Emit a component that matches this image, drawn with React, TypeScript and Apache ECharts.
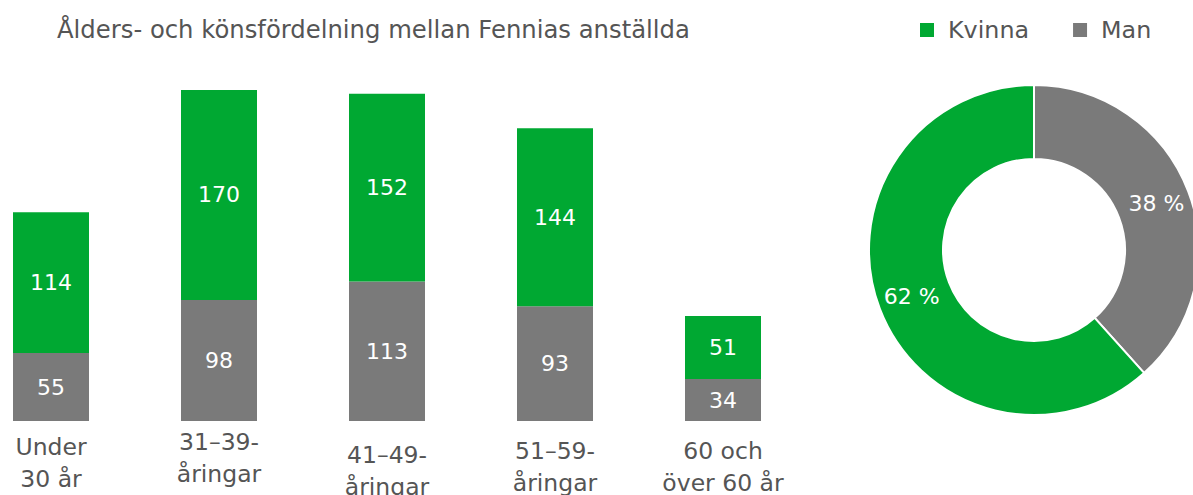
import React, { useEffect, useRef } from "react";
import * as echarts from "echarts";

const categories = ["Under\n30 år", "31–39-\nåringar", "41–49-\nåringar", "51–59-\nåringar", "60 och\növer 60 år"];
const labelOffsets = [5, 0, 13, 9, 9];
const manValues = [55, 98, 113, 93, 34];
const womenValues = [114, 170, 152, 144, 51];
const seriesNames = ["Kvinna", "Man"];
const titleText = "Ålders- och könsfördelning mellan Fennias anställda";

const GREEN = "#00a832";
const GRAY = "#7a7a7a";
const TEXT = "#555555";
const FONT = "DejaVu Sans";

export default function App() {
  const ref = useRef<HTMLDivElement>(null);
  useEffect(() => {
    if (!ref.current) return;
    const chart = echarts.init(ref.current, undefined, { renderer: "svg" });
    const sum = (a: number[]) => a.reduce((s, v) => s + v, 0);
    const totalWomen = sum(womenValues);
    const totalMen = sum(manValues);
    chart.setOption({
      animation: false,
      textStyle: { fontFamily: FONT },
      title: {
        text: titleText,
        left: 52,
        top: 12,
        textStyle: { fontFamily: FONT, fontSize: 24.3, fontWeight: "normal", color: TEXT },
      },
      legend: {
        data: seriesNames,
        left: 915,
        top: 13,
        icon: "rect",
        itemWidth: 14,
        itemHeight: 14,
        itemGap: 44,
        textStyle: { fontFamily: FONT, fontSize: 23.8, color: TEXT, padding: [0, 0, 0, 9] },
      },
      grid: { left: -33, width: 840, top: 50.5, bottom: 74, containLabel: false, outerBoundsMode: "none" },
      xAxis: {
        type: "category",
        data: categories.map((c, i) => ({
          value: c,
          textStyle: { padding: [labelOffsets[i], 0, 0, 0] },
        })),
        axisLine: { show: false },
        axisTick: { show: false },
        axisLabel: {
          interval: 0,
          margin: 5,
          fontFamily: FONT,
          fontSize: 23.5,
          lineHeight: 32,
          color: TEXT,
        },
      },
      yAxis: { type: "value", min: 0, max: 300, show: false, splitLine: { show: false } },
      series: [
        {
          name: "Man",
          type: "bar",
          stack: "a",
          barWidth: 76,
          data: manValues,
          itemStyle: { color: GRAY },
          label: { show: true, position: "inside", color: "#fff", fontFamily: FONT, fontSize: 22 },
        },
        {
          name: "Kvinna",
          type: "bar",
          stack: "a",
          barWidth: 76,
          data: womenValues,
          itemStyle: { color: GREEN },
          label: { show: true, position: "inside", color: "#fff", fontFamily: FONT, fontSize: 22 },
        },
        {
          name: "Fördelning",
          type: "pie",
          center: [1034, 250],
          radius: [91, 165],
          startAngle: 90,
          clockwise: true,
          percentPrecision: 0,
          itemStyle: { borderColor: "#fff", borderWidth: 2 },
          label: {
            show: true,
            position: "inside",
            formatter: (p: any) => `${Math.round(p.percent)} %`,
            color: "#fff",
            fontFamily: FONT,
            fontSize: 22,
          },
          labelLine: { show: false },
          data: [
            { name: "Man", value: totalMen, itemStyle: { color: GRAY } },
            { name: "Kvinna", value: totalWomen, itemStyle: { color: GREEN } },
          ],
        },
      ],
    });
    return () => chart.dispose();
  }, []);
  return <div ref={ref} style={{ width: 1193, height: 495, position: "absolute", left: 0, top: 0 }} />;
}
